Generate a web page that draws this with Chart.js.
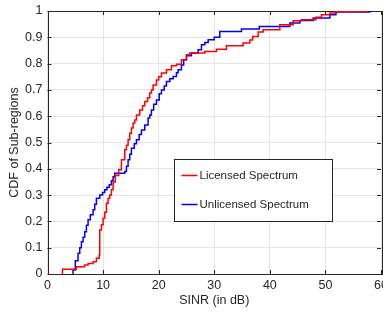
<!DOCTYPE html>
<html>
<head>
<meta charset="utf-8">
<script src="https://cdn.jsdelivr.net/npm/chart.js@4.4.1/dist/chart.umd.min.js"></script>
<style>
  html, body { margin: 0; padding: 0; background: #fff; }
  #wrap { width: 383px; height: 313px; }
</style>
</head>
<body>
<div id="wrap"><canvas id="cdfChart" width="383" height="313"></canvas></div>
<script>
// CDF values: [SINR dB, CDF]
const licensed = [
    [2.7, 0], [2.7, 0.018], [5.2, 0.028], [6.7, 0.034], [7.3, 0.04], [8.2, 0.047],
    [8.8, 0.06], [9.3, 0.072], [9.4, 0.167], [9.7, 0.187], [10.0, 0.212], [10.3, 0.235],
    [10.6, 0.269], [10.9, 0.288], [11.2, 0.3], [11.5, 0.32], [11.8, 0.35], [12.2, 0.375],
    [12.8, 0.396], [13.3, 0.434], [13.9, 0.472], [14.2, 0.49], [14.5, 0.51], [14.8, 0.535],
    [15.1, 0.555], [15.4, 0.574], [15.7, 0.586], [16.0, 0.605], [16.6, 0.624], [17.1, 0.64],
    [17.5, 0.656], [18.0, 0.67], [18.4, 0.688], [18.7, 0.7], [19.0, 0.719], [19.6, 0.738],
    [20.0, 0.75], [20.5, 0.764], [21.4, 0.777], [22.3, 0.792], [23.2, 0.798], [24.1, 0.815],
    [25.0, 0.834], [25.6, 0.84], [28.3, 0.846], [30.4, 0.855], [32.2, 0.868], [35.2, 0.878],
    [36.4, 0.89], [36.9, 0.903], [37.9, 0.92], [38.8, 0.929], [41.8, 0.948], [44.2, 0.963],
    [45.7, 0.967], [48.3, 0.976], [49.3, 0.986], [50.8, 0.992], [52.0, 0.998], [57.4, 1]
];
const unlicensed = [
    [4.5, 0], [4.6, 0.015], [5.0, 0.05], [5.5, 0.079], [5.8, 0.1], [6.1, 0.123],
    [6.4, 0.14], [6.7, 0.161], [7.0, 0.185], [7.3, 0.206], [7.7, 0.225], [8.2, 0.244],
    [8.5, 0.265], [8.8, 0.288], [9.4, 0.3], [9.9, 0.31], [10.3, 0.32], [10.7, 0.33],
    [11.1, 0.339], [11.5, 0.355], [11.8, 0.37], [12.1, 0.383], [13.9, 0.39], [14.2, 0.41],
    [14.5, 0.434], [14.8, 0.455], [15.1, 0.478], [15.6, 0.495], [16.0, 0.51], [16.5, 0.53],
    [16.9, 0.548], [17.5, 0.567], [18.1, 0.593], [18.4, 0.605], [18.7, 0.624], [19.1, 0.645],
    [19.6, 0.662], [20.1, 0.685], [20.5, 0.7], [21.0, 0.715], [21.4, 0.732], [22.0, 0.742],
    [22.6, 0.751], [23.2, 0.765], [23.5, 0.777], [24.1, 0.795], [24.5, 0.815], [25.0, 0.83],
    [25.9, 0.84], [27.1, 0.853], [27.7, 0.872], [28.3, 0.88], [28.9, 0.891], [30.0, 0.9],
    [31.0, 0.922], [34.9, 0.932], [38.1, 0.941], [43.6, 0.954], [45.4, 0.964], [47.8, 0.973],
    [50.8, 0.986], [51.9, 0.996], [58.0, 1]
];
const seriesNames = ['Licensed Spectrum', 'Unlicensed Spectrum'];
const xTicks = [0, 10, 20, 30, 40, 50, 60];
const yTicks = [0, 0.1, 0.2, 0.3, 0.4, 0.5, 0.6, 0.7, 0.8, 0.9, 1];
const yTickLabels = ['0', '0.1', '0.2', '0.3', '0.4', '0.5', '0.6', '0.7', '0.8', '0.9', '1'];

const FONT = 'Liberation Sans, Arial, Helvetica, sans-serif';
const DARK = '#262626';

function toPoints(arr) {
    return arr.map(p => ({ x: p[0], y: p[1] }));
}

// MATLAB style box with inward ticks
const boxPlugin = {
    id: 'boxPlugin',
    beforeDatasetsDraw(chart) {
        const ctx = chart.ctx;
        const a = chart.chartArea;
        const xs = chart.scales.x, ys = chart.scales.y;
        ctx.save();
        ctx.strokeStyle = DARK;
        ctx.lineWidth = 1;
        ctx.beginPath();
        xTicks.forEach(v => {
            const px = Math.round(xs.getPixelForValue(v)) + 0.5;
            ctx.moveTo(px, a.bottom); ctx.lineTo(px, a.bottom - 4);
            ctx.moveTo(px, a.top); ctx.lineTo(px, a.top + 4);
        });
        yTicks.forEach(v => {
            const py = Math.round(ys.getPixelForValue(v)) + 0.5;
            ctx.moveTo(a.left, py); ctx.lineTo(a.left + 4, py);
            ctx.moveTo(a.right, py); ctx.lineTo(a.right - 4, py);
        });
        ctx.stroke();
        ctx.strokeRect(Math.round(a.left) + 0.5, Math.round(a.top) + 0.5,
            Math.round(a.right - a.left), Math.round(a.bottom - a.top));
        ctx.restore();
    }
};

// legend box inside the plot
const legendPlugin = {
    id: 'legendPlugin',
    afterDatasetsDraw(chart) {
        const ctx = chart.ctx;
        const a = chart.chartArea;
        const bx = Math.round(a.left + 126) + 0.5;
        const by = Math.round(a.top + 148) + 0.5;
        const bw = 158, bh = 62;
        ctx.save();
        ctx.fillStyle = '#fff';
        ctx.fillRect(bx, by, bw, bh);
        ctx.strokeStyle = DARK;
        ctx.lineWidth = 1;
        ctx.strokeRect(bx, by, bw, bh);
        ctx.font = '11.5px ' + FONT;
        ctx.textBaseline = 'middle';
        ctx.fillStyle = DARK;
        chart.data.datasets.forEach((ds, i) => {
            const ly = by + 16 + i * 29;
            ctx.strokeStyle = ds.borderColor;
            ctx.lineWidth = 1.5;
            ctx.beginPath();
            ctx.moveTo(bx + 7, ly);
            ctx.lineTo(bx + 23, ly);
            ctx.stroke();
            ctx.fillText(ds.label, bx + 25, ly + 0.5);
        });
        ctx.restore();
    }
};

function initCdfChart() {
    const ctx = document.getElementById('cdfChart').getContext('2d');

    new Chart(ctx, {
        type: 'line',
        data: {
            datasets: [{
                label: seriesNames[0],
                data: toPoints(licensed),
                borderColor: '#ff0000',
                borderWidth: 1.5,
                pointRadius: 0,
                stepped: 'before',
                fill: false
            }, {
                label: seriesNames[1],
                data: toPoints(unlicensed),
                borderColor: '#0000ff',
                borderWidth: 1.5,
                pointRadius: 0,
                stepped: 'before',
                fill: false
            }]
        },
        options: {
            responsive: false,
            animation: false,
            layout: {
                padding: { top: 11, right: 2, left: 0, bottom: 0 }
            },
            plugins: {
                legend: { display: false },
                tooltip: { enabled: false }
            },
            scales: {
                x: {
                    type: 'linear',
                    min: 0,
                    max: 60,
                    afterBuildTicks: function(scale) {
                        scale.ticks = xTicks.map(v => ({ value: v }));
                    },
                    afterFit: function(scale) {
                        scale.height = 39;
                        scale.paddingLeft = 0;
                        scale.paddingRight = 0;
                    },
                    ticks: {
                        autoSkip: false,
                        maxRotation: 0,
                        padding: 4,
                        color: DARK,
                        font: { family: FONT, size: 12.5 }
                    },
                    grid: {
                        color: '#e4e4e4',
                        drawTicks: false
                    },
                    border: { display: false },
                    title: {
                        display: true,
                        text: 'SINR (in dB)',
                        color: DARK,
                        font: { family: FONT, size: 12.5 },
                        padding: { top: 0, bottom: 5 }
                    }
                },
                y: {
                    type: 'linear',
                    min: 0,
                    max: 1,
                    afterBuildTicks: function(scale) {
                        scale.ticks = yTicks.map(v => ({ value: v }));
                    },
                    afterFit: function(scale) {
                        scale.width = 47.5;
                        scale.paddingTop = 0;
                        scale.paddingBottom = 0;
                    },
                    ticks: {
                        autoSkip: false,
                        padding: 5,
                        color: DARK,
                        font: { family: FONT, size: 12.5 },
                        callback: function(value, index) {
                            return yTickLabels[index];
                        }
                    },
                    grid: {
                        color: '#e4e4e4',
                        drawTicks: false
                    },
                    border: { display: false },
                    title: {
                        display: true,
                        text: 'CDF of Sub-regions',
                        color: DARK,
                        font: { family: FONT, size: 12.5 },
                        padding: { top: 7, bottom: 0 }
                    }
                }
            }
        },
        plugins: [boxPlugin, legendPlugin]
    });
}

document.addEventListener('DOMContentLoaded', function() {
    initCdfChart();
});
</script>
</body>
</html>
